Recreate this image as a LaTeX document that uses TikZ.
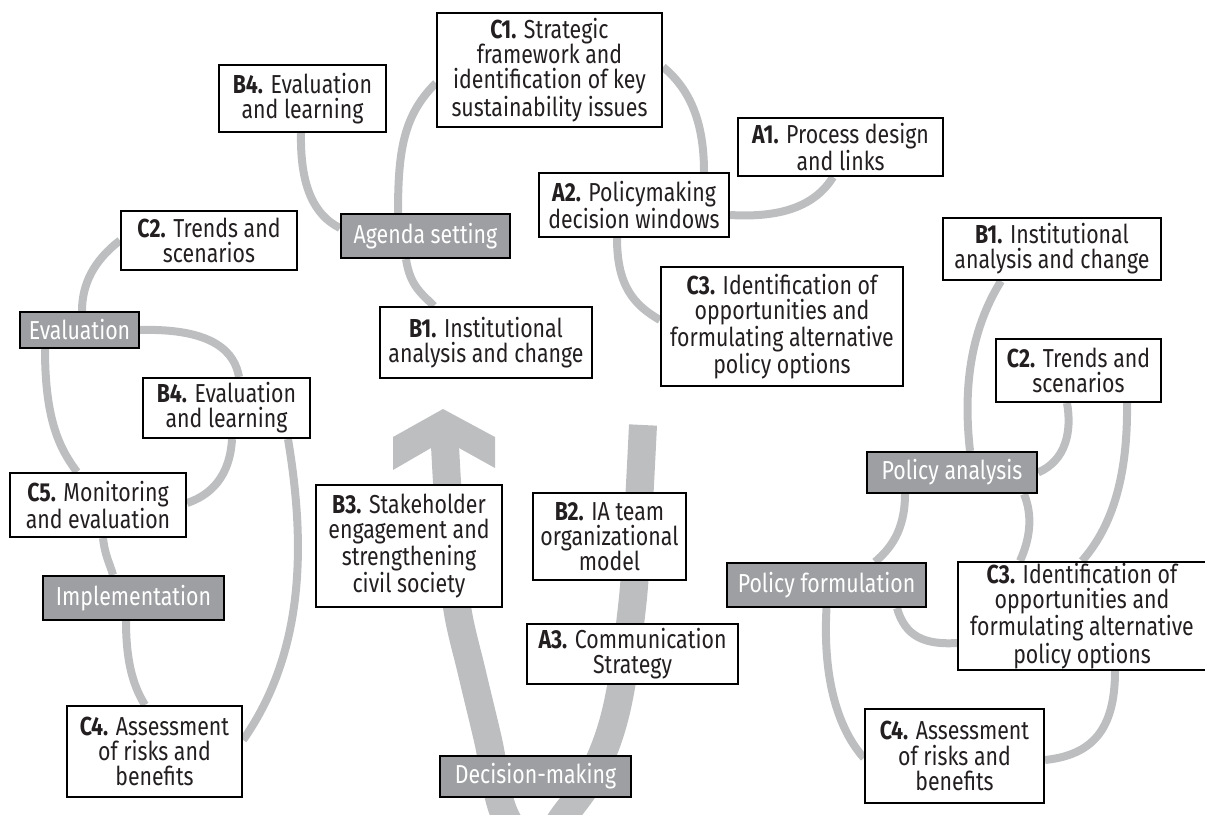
\documentclass[tikz,border=0pt]{standalone}
\usepackage{fontspec}
\setmainfont{Fira Sans}[FakeStretch=0.82]
\usetikzlibrary{calc}
\definecolor{linegray}{RGB}{188,190,192}
\definecolor{boxgray}{RGB}{157,159,162}
\definecolor{txt}{RGB}{35,31,32}
\pgfdeclarelayer{bg}
\pgfsetlayers{bg,main}
\begin{document}
\begin{tikzpicture}[x=0.75pt,y=-0.75pt,
  box/.style={draw=black,line width=1.6pt,fill=white,text=txt,align=center,inner sep=0pt,
    font=\fontsize{19.5}{18.9}\selectfont},
  dbox/.style={box,fill=boxgray,text=white},
  conn/.style={draw=linegray,line width=6pt},
  uarrow/.style={draw=linegray,line width=21pt}]
\useasboundingbox (0,0) rectangle (1205,814);

% boxes
\node[box,minimum width=167*0.75pt,minimum height=67*0.75pt] (b4t) at (302.5,98.5) {\textbf{B4.} Evaluation\\and learning};
\node[box,minimum width=225*0.75pt,minimum height=114*0.75pt] (c1) at (549.5,70) {\textbf{C1.} Strategic\\framework and\\identification of key\\sustainability issues};
\node[dbox,minimum width=169*0.75pt,minimum height=44*0.75pt] (agenda) at (425.5,236) {Agenda setting};
\node[box,minimum width=190*0.75pt,minimum height=64*0.75pt] (a2) at (634,205) {\textbf{A2.} Policymaking\\decision windows};
\node[box,minimum width=205*0.75pt,minimum height=58*0.75pt] (a1) at (840.5,147) {\textbf{A1.} Process design\\and links};
\node[box,minimum width=176*0.75pt,minimum height=59*0.75pt] (c2l) at (209,240.5) {\textbf{C2.} Trends and\\scenarios};
\node[dbox,minimum width=119*0.75pt,minimum height=36*0.75pt] (eval) at (79.5,330) {Evaluation};
\node[box,minimum width=212*0.75pt,minimum height=71*0.75pt] (b1c) at (486,342.5) {\textbf{B1.} Institutional\\analysis and change};
\node[box,minimum width=242*0.75pt,minimum height=119*0.75pt] (c3t) at (782,326.5) {\textbf{C3.} Identification of\\opportunities and\\formulating alternative\\policy options};
\node[box,minimum width=218*0.75pt,minimum height=62*0.75pt] (b1r) at (1052,249) {\textbf{B1.} Institutional\\analysis and change};
\node[box,minimum width=165*0.75pt,minimum height=63*0.75pt] (c2r) at (1078.5,370.5) {\textbf{C2.} Trends and\\scenarios};
\node[box,minimum width=167*0.75pt,minimum height=60*0.75pt] (b4l) at (226.5,408) {\textbf{B4.} Evaluation\\and learning};
\node[box,minimum width=176*0.75pt,minimum height=64*0.75pt] (c5) at (98,505) {\textbf{C5.} Monitoring\\and evaluation};
\node[dbox,minimum width=181*0.75pt,minimum height=44*0.75pt] (impl) at (133.5,598) {Implementation};
\node[box,minimum width=175*0.75pt,minimum height=91*0.75pt] (c4l) at (154.5,751.5) {\textbf{C4.} Assessment\\of risks and\\benefits};
\node[box,minimum width=186*0.75pt,minimum height=122*0.75pt] (b3) at (409,546) {\textbf{B3.} Stakeholder\\engagement and\\strengthening\\civil society};
\node[box,minimum width=153*0.75pt,minimum height=87*0.75pt] (b2) at (609.5,536.5) {\textbf{B2.} IA team\\organizational\\model};
\node[box,minimum width=211*0.75pt,minimum height=60*0.75pt] (a3) at (632.5,654) {\textbf{A3.} Communication\\Strategy};
\node[dbox,minimum width=191*0.75pt,minimum height=41*0.75pt] (dm) at (535.5,776.5) {Decision-making};
\node[dbox,minimum width=170*0.75pt,minimum height=41*0.75pt] (pa) at (952,472.5) {Policy analysis};
\node[dbox,minimum width=199*0.75pt,minimum height=44*0.75pt] (pf) at (826.5,585) {Policy formulation};
\node[box,minimum width=248*0.75pt,minimum height=108*0.75pt] (c3r) at (1082,616) {\textbf{C3.} Identification of\\opportunities and\\formulating alternative\\policy options};
\node[box,minimum width=179*0.75pt,minimum height=94*0.75pt] (c4r) at (954.5,756) {\textbf{C4.} Assessment\\of risks and\\benefits};

\begin{pgfonlayer}{bg}
% big U arrow
\begin{scope}
\clip (0,0) rectangle (1205,814);
\draw[uarrow] plot[smooth,tension=0.6] coordinates {(643,425) (638,520) (632,607) (617,707) (595,770) (566,813) (535,848) (504,813) (488,740) (472,673) (457,607) (450,530) (445,446)};
\fill[linegray] (443,409) -- (495,437) -- (495,468) -- (459,448) -- (431,448) -- (393,470) -- (393,437) -- cycle;
\end{scope}
% connectors
\draw[conn] ($(b4t.south)+(-1.5,0)$) .. controls +(-1,53) and +(-26,-13) .. ($(agenda.west)+(0,-8)$);
\draw[conn] ($(c1.west)+(0,13)$) .. controls +(-32,32) and +(0,-64) .. ($(agenda.north)+(-27.5,0)$);
\draw[conn] ($(agenda.south)+(-19.5,0)$) .. controls +(4,27) and +(-12,-12) .. ($(b1c.north)+(-52,0)$);
\draw[conn] (c2l.west) .. controls +(-26,20) and +(0,-27) .. ($(eval.north)+(2.5,0)$);
\draw[conn] (eval.east) .. controls +(76,-2) and +(-4,-23) .. ($(b4l.north)+(12.5,0)$);
\draw[conn] ($(eval.south)+(-34.5,0)$) .. controls +(0,72) and +(-17,-23) .. ($(c5.north)+(-21,0)$);
\draw[conn] ($(c1.east)+(0,-3)$) .. controls +(28,23) and +(0,-48) .. ($(a2.north)+(70,0)$);
\draw[conn] ($(a2.east)+(0,10)$) .. controls +(51,3) and +(-18,29) .. ($(a1.south)+(-7.5,0)$);
\draw[conn] ($(a2.south)+(-17,0)$) .. controls +(0,48) and +(-26,-15) .. ($(c3t.west)+(0,-6.5)$);
\draw[conn] ($(b1r.south)+(-51,0)$) .. controls +(-31,50) and +(-7,-62) .. ($(pa.north)+(18,0)$);
\draw[conn] ($(c2r.south)+(-11.5,0)$) .. controls +(5,28) and +(28,-12) .. (pa.east);
\draw[conn] ($(c2r.south)+(48.5,0)$) .. controls +(1,78) and +(28,-32) .. (c3r.north);
\draw[conn] ($(pa.south)+(72,0)$) .. controls +(9,22) and +(10,-22) .. ($(c3r.north)+(-62,0)$);
\draw[conn] ($(pa.south)+(-47,0)$) .. controls +(0,37) and +(15,-13) .. ($(pf.north)+(48.5,0)$);
\draw[conn] ($(pf.south)+(70.5,0)$) .. controls +(8,28) and +(-33,2) .. ($(c3r.west)+(0,27)$);
\draw[conn] (pf.south) .. controls +(-4,73) and +(-25,-28) .. ($(c4r.west)+(0,2)$);
\draw[conn] ($(c3r.south)+(33,0)$) .. controls +(0,60) and +(46,-5) .. ($(c4r.east)+(0,4)$);
\draw[conn] ($(b4l.south)+(5.5,0)$) .. controls +(-2,37) and +(24,-8) .. ($(c5.east)+(0,-2)$);
\draw[conn] ($(b4l.south)+(61.5,0)$) .. controls +(17,102) and +(63,-90) .. ($(c4l.east)+(0,-11.5)$);
\draw[conn] ($(c5.south)+(5,0)$) .. controls +(2,18) and +(-3,-11) .. ($(impl.north)+(-20.5,0)$);
\draw[conn] ($(impl.south)+(-7.5,0)$) .. controls +(0,45) and +(-10,-16) .. ($(c4l.north)+(-9.5,0)$);
\end{pgfonlayer}
\end{tikzpicture}
\end{document}
